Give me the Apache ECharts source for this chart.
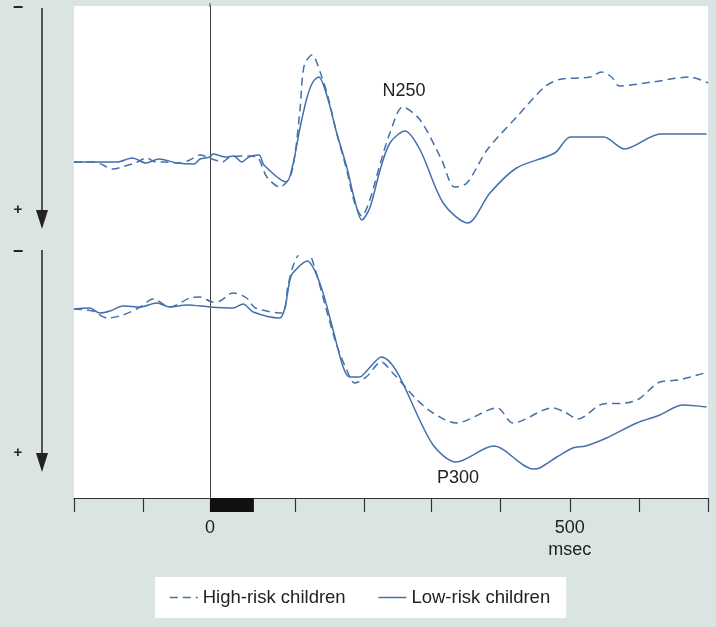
<!DOCTYPE html>
<html>
<head>
<meta charset="utf-8">
<script src="https://cdn.jsdelivr.net/npm/echarts@6/dist/echarts.min.js"></script>
<style>
  html, body { margin: 0; padding: 0; background: #dae5e3; }
  #chart { width: 716px; height: 627px; }
</style>
</head>
<body>
<div id="chart"></div>
<script>
// ---- data (x: msec, y: relative amplitude, negative up) ----
var xRange = [-189, 692];
var tickValues = [-189, -93, 0, 119, 214, 308, 404, 500, 597, 692];
var labelValues = [0, 500];
var stimulus = [0, 61];
var seriesNames = ['High-risk children', 'Low-risk children'];

// Upper waveform (N250)
var topHigh = [
  [-189, 0.1], [-160, 0.1], [-135, 0.8], [-118, 0.5], [-104, 0.2], [-88, -0.3], [-76, 0.1],
  [-63, 0.1], [-42, 0.2], [-28, -0.1], [-14, -0.6], [3, -0.2], [17, 0.1], [28, -0.4],
  [56, -0.5], [67, -0.3], [79, 1.6], [97, 2.6], [111, 1.6], [118, -0.6], [125, -5.1],
  [131, -9.6], [142, -10.6], [153, -8.9], [164, -6.4], [176, -2.8], [190, 0.9], [201, 4.2],
  [211, 5.5], [222, 3.9], [236, 0.4], [250, -2.8], [268, -5.4], [292, -4.1], [322, -0.1],
  [340, 2.6], [357, 2.2], [385, -1.1], [426, -4.4], [463, -7.3], [476, -7.9], [489, -8.2],
  [528, -8.4], [544, -8.9], [558, -8.4], [569, -7.5], [615, -7.9], [667, -8.4], [692, -7.8]
];
var topLow = [
  [-189, 0.1], [-153, 0.1], [-129, 0.1], [-108, -0.3], [-89, 0.2], [-71, -0.2], [-46, 0.2],
  [-22, 0.3], [-14, -0.2], [0, -0.4], [4, -0.7], [22, -0.4], [33, -0.5], [44, 0.1], [54, -0.4],
  [68, -0.6], [75, 0.4], [106, 2.1], [115, 0.4], [125, -3.3], [135, -6.4], [143, -7.9],
  [151, -8.4], [163, -6.4], [176, -2.8], [190, 0.6], [201, 3.9], [211, 5.9], [222, 4.7],
  [236, 1.0], [250, -1.8], [271, -3.0], [292, -1.1], [324, 4.2], [358, 6.2], [389, 3.2],
  [426, 0.7], [479, -0.8], [501, -2.4], [547, -2.4], [576, -1.2], [626, -2.7], [690, -2.7]
];

// Lower waveform (P300)
var bottomHigh = [
  [-189, 0.3], [-163, 0.5], [-143, 1.2], [-121, 0.9], [-97, 0.1], [-79, -0.7], [-56, 0.1],
  [-28, -0.8], [-14, -0.9], [4, -0.4], [14, -0.5], [32, -1.3], [51, -0.8], [63, 0.2],
  [100, 0.7], [108, -1.9], [115, -3.9], [125, -5.4], [133, -5.8], [143, -4.4], [163, 0.7],
  [176, 3.9], [190, 6.4], [201, 7.7], [217, 7.1], [238, 5.6], [254, 6.7], [288, 9.4],
  [310, 10.7], [342, 11.7], [399, 10.2], [421, 11.7], [476, 10.2], [493, 10.6], [511, 11.3],
  [546, 9.8], [578, 9.7], [596, 9.3], [625, 7.6], [651, 7.4], [692, 6.6]
];
var bottomLow = [
  [-189, 0.3], [-167, 0.2], [-153, 0.7], [-139, 0.5], [-121, 0.0], [-97, 0.1], [-74, -0.3],
  [-56, 0.1], [-32, -0.1], [0, 0.1], [32, 0.2], [46, -0.2], [60, 0.6], [97, 1.2], [104, 0.2],
  [111, -2.6], [115, -3.3], [135, -4.5], [153, -2.2], [171, 2.4], [185, 6.1], [194, 7.1],
  [208, 7.1], [215, 6.7], [238, 5.1], [310, 13.9], [342, 15.6], [394, 14.0], [449, 16.3],
  [458, 16.2], [482, 15.1], [504, 14.2], [522, 14.0], [551, 13.2], [593, 11.7], [625, 10.9],
  [657, 9.9], [690, 10.1]
];

var topRange = [-15, 9];
var bottomRange = [-5, 19];

// ---- chart ----
var lineColor = '#4470ab';
var FONT = 'Liberation Sans, Arial, sans-serif';
var chart = echarts.init(document.getElementById('chart'), null, { renderer: 'canvas' });

function hiddenX(idx) {
  return { type: 'value', gridIndex: idx, min: xRange[0], max: xRange[1], show: false };
}
function hiddenY(idx, r, inv) {
  return { type: 'value', gridIndex: idx, min: r[0], max: r[1], inverse: !!inv, show: false };
}
function wave(name, data, idx, dashed) {
  return {
    name: name, type: 'line', xAxisIndex: idx, yAxisIndex: idx, data: data,
    symbol: 'none', smooth: 0.3, silent: true, z: 5,
    lineStyle: { color: lineColor, width: 1.5, type: dashed ? [8, 5] : 'solid' },
    itemStyle: { color: lineColor }
  };
}

var option = {
  animation: false,
  backgroundColor: '#dae5e3',
  grid: [
    { left: 74, top: 6, width: 634, height: 492, show: true, backgroundColor: '#ffffff', borderWidth: 0 },
    { left: 74, top: 11, width: 634, height: 240 },
    { left: 74, top: 256, width: 634, height: 240 },
    { left: 74, top: 498, width: 634, height: 14 }
  ],
  xAxis: [
    {
      type: 'value', gridIndex: 0, min: xRange[0], max: xRange[1], position: 'bottom',
      splitLine: { show: false },
      axisLine: { show: true, lineStyle: { color: '#333', width: 1.2 } },
      axisTick: { show: true, inside: false, length: 14, customValues: tickValues, lineStyle: { color: '#333', width: 1.2 } },
      axisLabel: {
        show: true, customValues: labelValues, margin: 19,
        color: '#222', fontSize: 18, lineHeight: 22, fontFamily: FONT,
        formatter: function (v) { return v === 500 ? '500\nmsec' : String(v); }
      }
    },
    hiddenX(1), hiddenX(2), hiddenX(3)
  ],
  yAxis: [
    hiddenY(0, [0, 1]),
    hiddenY(1, topRange, true),
    hiddenY(2, bottomRange, true),
    hiddenY(3, [0, 1])
  ],
  legend: {
    data: seriesNames, left: 155, top: 577, orient: 'horizontal',
    backgroundColor: '#ffffff', padding: [11, 16, 11, 14], itemGap: 32,
    itemWidth: 28, itemHeight: 18, selectedMode: false,
    itemStyle: { opacity: 0 },
    lineStyle: { width: 1.5 },
    textStyle: { color: '#222', fontSize: 18.5, fontFamily: FONT }
  },
  series: [
    {
      type: 'line', xAxisIndex: 0, yAxisIndex: 0, data: [], silent: true,
      markLine: {
        silent: true, symbol: ['none', 'none'], label: { show: false },
        lineStyle: { color: '#444', width: 1, type: 'solid' },
        data: [{ xAxis: 0 }]
      }
    },
    {
      type: 'line', xAxisIndex: 3, yAxisIndex: 3, data: [], silent: true,
      markArea: {
        silent: true, itemStyle: { color: '#111' },
        data: [[{ xAxis: stimulus[0] }, { xAxis: stimulus[1] }]]
      }
    },
    wave(seriesNames[0], topHigh, 1, true),
    wave(seriesNames[1], topLow, 1, false),
    wave(seriesNames[0], bottomHigh, 2, true),
    wave(seriesNames[1], bottomLow, 2, false)
  ],
  graphic: [
    { type: 'line', shape: { x1: 210, y1: 3, x2: 210, y2: 7 }, style: { stroke: '#444', lineWidth: 1 } },
    { type: 'line', shape: { x1: 42, y1: 8, x2: 42, y2: 215 }, style: { stroke: '#222', lineWidth: 1.5 } },
    { type: 'polygon', shape: { points: [[36, 210], [48, 210], [42, 229]] }, style: { fill: '#222' } },
    { type: 'line', shape: { x1: 42, y1: 250, x2: 42, y2: 458 }, style: { stroke: '#222', lineWidth: 1.5 } },
    { type: 'polygon', shape: { points: [[36, 453], [48, 453], [42, 472]] }, style: { fill: '#222' } },
    { type: 'text', x: 18, y: 8, style: { text: '\u2212', fontSize: 18, fontWeight: 'bold', fill: '#222', align: 'center', verticalAlign: 'middle', fontFamily: FONT } },
    { type: 'text', x: 18, y: 210, style: { text: '+', fontSize: 15, fontWeight: 'bold', fill: '#222', align: 'center', verticalAlign: 'middle', fontFamily: FONT } },
    { type: 'text', x: 18, y: 252, style: { text: '\u2212', fontSize: 18, fontWeight: 'bold', fill: '#222', align: 'center', verticalAlign: 'middle', fontFamily: FONT } },
    { type: 'text', x: 18, y: 453, style: { text: '+', fontSize: 15, fontWeight: 'bold', fill: '#222', align: 'center', verticalAlign: 'middle', fontFamily: FONT } },
    { type: 'text', x: 404, y: 91, z: 10, style: { text: 'N250', fontSize: 18, fill: '#222', align: 'center', verticalAlign: 'middle', fontFamily: FONT } },
    { type: 'text', x: 458, y: 478, z: 10, style: { text: 'P300', fontSize: 18, fill: '#222', align: 'center', verticalAlign: 'middle', fontFamily: FONT } }
  ]
};
chart.setOption(option);
</script>
</body>
</html>
